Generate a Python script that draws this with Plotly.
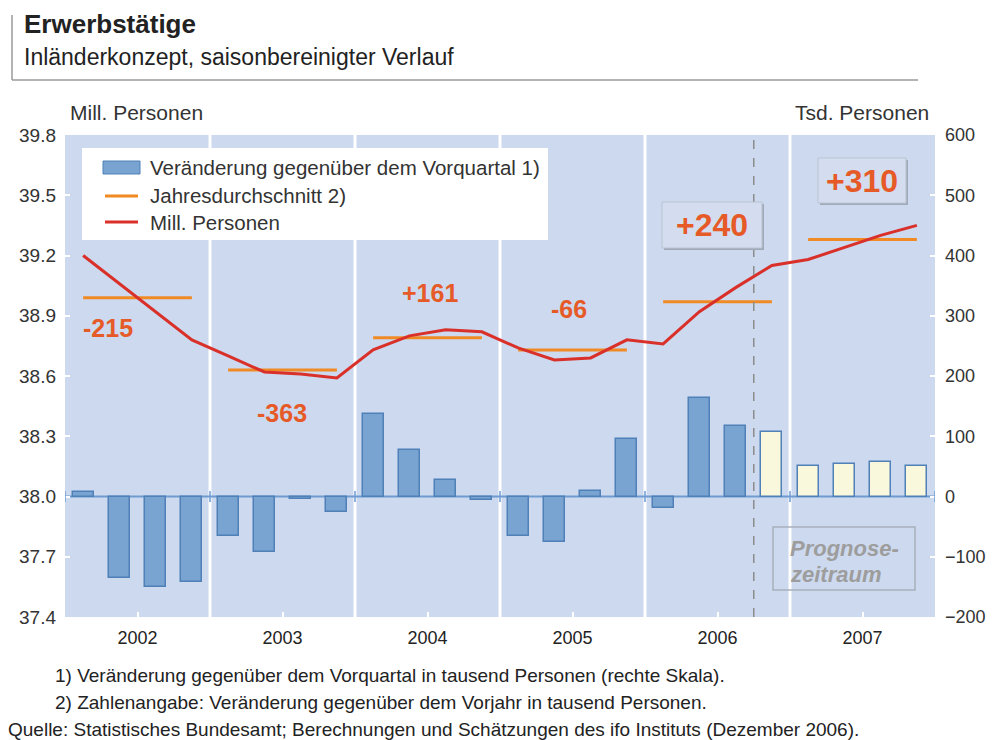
import plotly.graph_objects as go

# ---------------- data ----------------
years = ["2002", "2003", "2004", "2005", "2006", "2007"]
quarters = [f"{y}Q{q}" for y in years for q in range(1, 5)]
# change vs previous quarter, thousand persons (right axis)
change_q = [7, -136, -150, -142,
            -65, -92, -4, -26,
            137, 78, 27, -5,
            -65, -76, 9, 95,
            -19, 164, 117, 107,
            50, 54, 58, 50]
forecast_from = 19  # index of first forecast quarter (2006Q4)
# persons employed, millions (left axis)
persons_mill = [39.20, 39.06, 38.92, 38.78,
                38.70, 38.62, 38.61, 38.59,
                38.73, 38.80, 38.83, 38.82,
                38.74, 38.68, 38.69, 38.78,
                38.76, 38.92, 39.04, 39.15,
                39.18, 39.24, 39.30, 39.35]
# annual average, millions (left axis)
annual_avg = [38.99, 38.63, 38.79, 38.73, 38.97, 39.28]
# change vs previous year, thousand persons (labels)
annual_change = ["-215", "-363", "+161", "-66", "+240", "+310"]
left_ticks = [37.4, 37.7, 38.0, 38.3, 38.6, 38.9, 39.2, 39.5, 39.8]
right_ticks = [-200, -100, 0, 100, 200, 300, 400, 500, 600]

# ---------------- layout constants ----------------
OFF = 8  # page body margin
W, H = 995 - OFF, 740 - OFF
# plot area in screenshot pixels
L, R, T, B = 65, 935, 135, 617
FONT = "Liberation Sans, Arial, sans-serif"
BG = "#cdd9ee"
BAR = "#79a3d0"
BAR_EDGE = "#4f80b8"
FC_FILL = "#faf8dc"
RED = "#d9302a"
ORANGE = "#f08a24"
LBL = "#e65a28"

def px(x):
    return (x - L) / (R - L)

def py(y):
    return (B - y) / (B - T)

xc = [i + 0.5 for i in range(len(quarters))]

fig = go.Figure()

fig.add_trace(go.Bar(
    x=xc, y=change_q, yaxis="y2", width=0.58,
    marker=dict(color=[BAR if i < forecast_from else FC_FILL for i in range(len(xc))],
                line=dict(color=BAR_EDGE, width=1.5)),
    showlegend=False, hoverinfo="skip"))

for k, v in enumerate(annual_avg):
    fig.add_trace(go.Scatter(
        x=[4 * k + 0.5, 4 * k + 3.5], y=[v, v], mode="lines",
        line=dict(color=ORANGE, width=3), showlegend=False, hoverinfo="skip"))

fig.add_trace(go.Scatter(
    x=xc, y=persons_mill, mode="lines",
    line=dict(color=RED, width=3), showlegend=False, hoverinfo="skip"))

shapes = []
# year separators
for k in range(1, 6):
    shapes.append(dict(type="line", xref="x", yref="paper", x0=4 * k, x1=4 * k,
                       y0=0, y1=1, line=dict(color="white", width=3), layer="below"))
# forecast dashed line
shapes.append(dict(type="line", xref="x", yref="paper", x0=forecast_from, x1=forecast_from,
                   y0=0, y1=1, line=dict(color="#8c8c8c", width=1.5, dash="dash")))
# zero line with small ticks
shapes.append(dict(type="line", xref="x", yref="y2", x0=0, x1=24, y0=0, y1=0,
                   line=dict(color="#6f9bd0", width=2), layer="below"))
for k in range(0, 7):
    shapes.append(dict(type="line", xref="x", yref="y2", x0=4 * k, x1=4 * k, y0=-9, y1=9,
                       line=dict(color="#6f9bd0", width=1.5)))

# header frame
shapes.append(dict(type="line", xref="paper", yref="paper", x0=px(12), x1=px(12),
                   y0=py(15), y1=py(80), line=dict(color="#9a9a9a", width=1.5)))
shapes.append(dict(type="line", xref="paper", yref="paper", x0=px(12), x1=px(918),
                   y0=py(80), y1=py(80), line=dict(color="#9a9a9a", width=1.5)))

# legend box
shapes.append(dict(type="rect", xref="paper", yref="paper", x0=px(82), x1=px(548),
                   y0=py(240), y1=py(148), fillcolor="white", line=dict(width=0)))
shapes.append(dict(type="rect", xref="paper", yref="paper", x0=px(103), x1=px(140),
                   y0=py(174), y1=py(161), fillcolor=BAR, line=dict(color=BAR_EDGE, width=1)))
shapes.append(dict(type="line", xref="paper", yref="paper", x0=px(105), x1=px(138),
                   y0=py(196), y1=py(196), line=dict(color=ORANGE, width=3)))
shapes.append(dict(type="line", xref="paper", yref="paper", x0=px(105), x1=px(138),
                   y0=py(222), y1=py(222), line=dict(color=RED, width=3)))

# value boxes
def box(x0, y0, x1, y1):
    shapes.append(dict(type="rect", xref="paper", yref="paper", x0=px(x0 + 2), x1=px(x1 + 2),
                       y0=py(y1 + 2), y1=py(y0 + 2), fillcolor="#9fa9b8",
                       line=dict(width=0)))
    shapes.append(dict(type="rect", xref="paper", yref="paper", x0=px(x0), x1=px(x1),
                       y0=py(y1), y1=py(y0), fillcolor="#d3ddef",
                       line=dict(color="#b9c3d2", width=1)))

box(662, 202, 762, 248)
box(818, 158, 906, 203)
# prognosis box
shapes.append(dict(type="rect", xref="paper", yref="paper", x0=px(773), x1=px(915),
                   y0=py(590), y1=py(527), fillcolor="rgba(0,0,0,0)",
                   line=dict(color="#a8b0bc", width=1.5)))

annotations = []
def txt(x, y, s, size, color="#333333", anchor="left", bold=False, italic=False, yanchor="middle"):
    if bold:
        s = f"<b>{s}</b>"
    if italic:
        s = f"<i>{s}</i>"
    annotations.append(dict(xref="paper", yref="paper", x=px(x), y=py(y), text=s,
                            showarrow=False, xanchor=anchor, yanchor=yanchor,
                            font=dict(family=FONT, size=size, color=color)))

txt(22, 24, "Erwerbstätige", 26, "#222222", bold=True)
txt(22, 57, "Inländerkonzept, saisonbereinigter Verlauf", 23, "#222222")
txt(68, 113, "Mill. Personen", 21, "#333333")
txt(931, 113, "Tsd. Personen", 21, "#333333", anchor="right")

txt(148, 167, "Veränderung gegenüber dem Vorquartal 1)", 20.5)
txt(148, 195, "Jahresdurchschnitt 2)", 20.5)
txt(148, 222, "Mill. Personen", 20.5)

# annual change labels
lbl_pos = [(108, 328, 25), (282, 413, 25), (430, 293, 25), (569, 309, 25),
           (712, 225, 32), (862, 181, 32)]
for (x, y, s), t in zip(lbl_pos, annual_change):
    txt(x, y, t, s, LBL, anchor="center", bold=True)

txt(788, 548, "Prognose-", 22, "#9d9d9d", bold=True, italic=True)
txt(788, 574, "zeitraum", 22, "#9d9d9d", bold=True, italic=True)

txt(53, 675, "1) Veränderung gegenüber dem Vorquartal in tausend Personen (rechte Skala).", 19, "#222222")
txt(53, 702, "2) Zahlenangabe: Veränderung gegenüber dem Vorjahr in tausend Personen.", 19, "#222222")
txt(6, 729, "Quelle: Statistisches Bundesamt; Berechnungen und Schätzungen des ifo Instituts (Dezember 2006).", 19, "#222222")

fig.update_layout(
    width=W, height=H,
    margin=dict(l=L - OFF, r=995 - R, t=T - OFF, b=740 - B, pad=0, autoexpand=False),
    paper_bgcolor="white", plot_bgcolor=BG,
    font=dict(family=FONT, size=16, color="#333333"),
    showlegend=False, bargap=0,
    xaxis=dict(range=[0, 24], showgrid=False, zeroline=False, automargin=False,
               tickvals=[4 * k + 2 for k in range(6)], ticktext=years,
               ticks="inside", ticklen=5, tickcolor="white", tickwidth=2,
               ticklabelstandoff=8,
               tickfont=dict(size=18, color="#222222"), fixedrange=True),
    yaxis=dict(range=[37.4, 39.8], tickvals=left_ticks, automargin=False,
               ticktext=[f"{v:.1f}" for v in left_ticks],
               showgrid=False, zeroline=False, ticks="inside", ticklen=5,
               ticklabelstandoff=8,
               tickcolor="white", tickwidth=2, tickfont=dict(size=19, color="#333333")),
    yaxis2=dict(range=[-200, 600], tickvals=right_ticks, overlaying="y", side="right",
                automargin=False,
                showgrid=False, zeroline=False, ticks="inside", ticklen=5,
                ticklabelstandoff=9,
                tickcolor="white", tickwidth=2, tickfont=dict(size=18, color="#333333")),
    shapes=shapes, annotations=annotations,
)

fig.write_html("out.html")
